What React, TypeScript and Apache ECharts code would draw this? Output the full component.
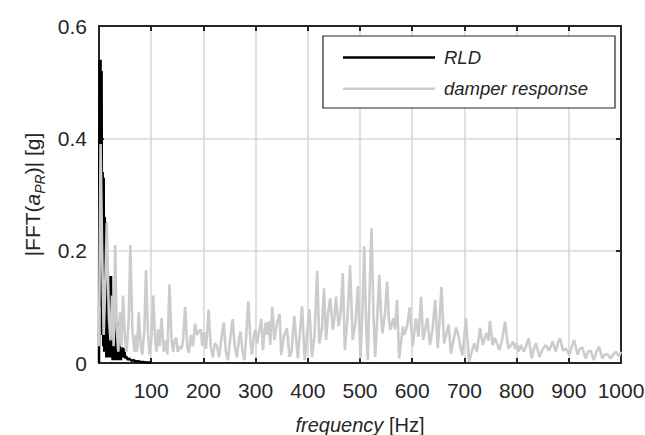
import { useEffect, useRef } from 'react';
import * as echarts from 'echarts';

// RLD spectrum (frequency in Hz, amplitude in g)
const rldFreq = [0, 1, 2, 3, 4, 5, 6, 7, 8, 9, 10, 11, 12, 13, 14, 15, 16, 17, 18, 19, 20, 21, 22, 23, 24, 25, 26, 27, 28, 29, 30, 31, 32, 33, 34, 35, 36, 37, 38, 39, 40, 41, 42, 43, 44, 45, 46, 47, 48, 49, 50, 52, 55, 58, 62, 66, 70, 75, 80, 85, 90, 95, 100];
const rldAmp = [0.0, 0.54, 0.1, 0.54, 0.2, 0.52, 0.05, 0.34, 0.03, 0.33, 0.02, 0.26, 0.02, 0.25, 0.01, 0.12, 0.01, 0.09, 0.01, 0.07, 0.01, 0.155, 0.02, 0.155, 0.01, 0.06, 0.005, 0.05, 0.005, 0.085, 0.01, 0.08, 0.005, 0.03, 0.005, 0.04, 0.005, 0.072, 0.01, 0.06, 0.005, 0.02, 0.005, 0.025, 0.01, 0.028, 0.012, 0.026, 0.01, 0.02, 0.008, 0.012, 0.006, 0.008, 0.004, 0.005, 0.003, 0.003, 0.002, 0.002, 0.001, 0.001, 0.001];

// damper response spectrum, as [frequency, amplitude] pairs
const damperLow = [
  [0, 0.03], [3, 0.39], [6, 0.2], [9, 0.05], [12, 0.14], [15, 0.25], [19, 0.08], [22, 0.04], [25, 0.12], [28, 0.03],
  [31, 0.21], [34, 0.06], [37, 0.02], [40, 0.09], [43, 0.03], [46, 0.12], [50, 0.04], [53, 0.02], [57, 0.08], [60, 0.21],
  [64, 0.06], [68, 0.02], [71, 0.05], [73, 0.02], [76, 0.09], [80, 0.03], [83, 0.015], [87, 0.06], [90, 0.165], [94, 0.05],
  [97, 0.015], [100, 0.04], [104, 0.12], [107, 0.05], [110, 0.02], [113, 0.06], [116, 0.03], [120, 0.08], [124, 0.02],
  [128, 0.04], [131, 0.015], [135, 0.14], [139, 0.04], [142, 0.02], [145, 0.04], [148, 0.045], [151, 0.02], [155, 0.03],
  [158, 0.025], [161, 0.04], [165, 0.1], [169, 0.03], [172, 0.018], [176, 0.05], [180, 0.03], [184, 0.07], [188, 0.05],
  [191, 0.055], [195, 0.06], [198, 0.03], [201, 0.055], [205, 0.025], [210, 0.095], [214, 0.03], [218, 0.01], [222, 0.035],
  [226, 0.03], [230, 0.01], [234, 0.04], [239, 0.072], [243, 0.02], [247, 0.005], [251, 0.04], [256, 0.078], [260, 0.03],
  [264, 0.01], [268, 0.04], [271, 0.056], [275, 0.02], [279, 0.005], [282, 0.05], [286, 0.11], [290, 0.04], [293, 0.015],
  [297, 0.05],
];
const damperMid = [
  [300, 0.06], [303, 0.035], [311, 0.078], [314, 0.023], [319, 0.072], [322, 0.05], [325, 0.074], [328, 0.032], [332, 0.1],
  [336, 0.041], [341, 0.071], [346, 0.087], [349, 0.014], [354, 0.047], [360, 0.062], [365, 0.011], [369, 0.02], [374, 0.084],
  [381, 0.008], [389, 0.101], [394, 0.005], [403, 0.096], [408, 0.011], [413, 0.05], [418, 0.164], [422, 0.035], [427, 0.06],
  [431, 0.133], [435, 0.041], [439, 0.09], [443, 0.115], [448, 0.059], [451, 0.08], [454, 0.118], [459, 0.065], [463, 0.09],
  [467, 0.16], [471, 0.023], [476, 0.08], [481, 0.174], [486, 0.041], [491, 0.07], [496, 0.137], [501, 0.008], [505, 0.1],
  [508, 0.208], [512, 0.06], [515, 0.005], [519, 0.15], [522, 0.24], [526, 0.08], [529, 0.011], [533, 0.08], [537, 0.157],
  [540, 0.09], [543, 0.053], [548, 0.09], [552, 0.145], [555, 0.08], [558, 0.059], [564, 0.08], [567, 0.06], [571, 0.112],
  [575, 0.008], [579, 0.04], [582, 0.065], [585, 0.05], [588, 0.059], [591, 0.07], [595, 0.099], [601, 0.029], [607, 0.08],
  [612, 0.047], [617, 0.118], [621, 0.041], [625, 0.06], [629, 0.08], [634, 0.032], [639, 0.06], [644, 0.113], [649, 0.026],
  [652, 0.07], [656, 0.135], [661, 0.035], [665, 0.05], [670, 0.069], [674, 0.017], [679, 0.04], [684, 0.063], [689, 0.047],
  [692, 0.03], [696, 0.014],
];
const damperHigh = [
  [700, 0.05], [703, 0.08], [709, 0.002], [714, 0.02], [719, 0.035], [724, 0.02], [730, 0.063], [735, 0.032], [742, 0.053],
  [746, 0.04], [749, 0.075], [754, 0.032], [758, 0.045], [761, 0.038], [767, 0.023], [772, 0.04], [778, 0.074], [784, 0.026],
  [788, 0.03], [793, 0.038], [797, 0.025], [800, 0.035], [804, 0.02], [808, 0.032], [814, 0.02], [818, 0.03], [823, 0.044],
  [829, 0.008], [833, 0.025], [837, 0.035], [844, 0.011], [850, 0.025], [856, 0.032], [862, 0.022], [866, 0.03], [869, 0.039],
  [875, 0.02], [879, 0.035], [883, 0.044], [889, 0.022], [894, 0.026], [901, 0.015], [906, 0.03], [910, 0.041], [917, 0.015],
  [921, 0.025], [926, 0.028], [932, 0.008], [937, 0.02], [942, 0.022], [948, 0.005], [953, 0.02], [958, 0.029], [964, 0.008],
  [969, 0.015], [974, 0.016], [980, 0.008], [985, 0.015], [990, 0.02], [996, 0.012], [1000, 0.02],
];

const seriesNames = ['RLD', 'damper response'];
const seriesColors = ['#000000', '#cccccc'];
const xRange = [0, 1000];
const xStep = 100;
const yRange = [0, 0.6];
const yStep = 0.2;

const FONT = '"Liberation Sans", Arial, Helvetica, sans-serif';
const INK = '#262626';

export default function App() {
  const ref = useRef<HTMLDivElement>(null);
  useEffect(() => {
    if (!ref.current) return;
    const chart = echarts.init(ref.current, undefined, { renderer: 'svg' });
    const rldData = rldFreq.map((f, i) => [f, rldAmp[i]]);
    const damperData = [...damperLow, ...damperMid, ...damperHigh];

    const boxAxisLine = { show: true, onZero: false, lineStyle: { color: INK, width: 2 } };
    const boxTick = { show: true, inside: true, length: 5, lineStyle: { color: INK, width: 2 } };

    chart.setOption({
      animation: false,
      backgroundColor: '#ffffff',
      grid: { left: 99, right: 24, top: 26, bottom: 72, containLabel: false, outerBoundsMode: 'none' },
      legend: {
        data: seriesNames,
        orient: 'vertical',
        left: 343,
        top: 47.5,
        padding: 0,
        itemGap: 11.3,
        itemWidth: 92,
        itemHeight: 2.6,
        icon: 'rect',
        z: 20,
        textStyle: { fontFamily: FONT, fontSize: 18.5, fontStyle: 'italic', color: INK, lineHeight: 20, padding: [0, 0, 0, 4] },
      },
      graphic: {
        elements: [
          {
            type: 'rect',
            z: 10,
            shape: { x: 323, y: 36, width: 292, height: 72 },
            style: { fill: '#ffffff', stroke: INK, lineWidth: 1.2 },
          },
        ],
      },
      xAxis: [
        {
          type: 'value',
          position: 'bottom',
          min: xRange[0],
          max: xRange[1],
          interval: xStep,
          axisLine: boxAxisLine,
          axisTick: boxTick,
          axisLabel: {
            color: INK,
            fontFamily: FONT,
            fontSize: 21,
            margin: 17,
            formatter: (v: number) => (v === 0 ? '' : String(v)),
          },
          splitLine: { show: true, lineStyle: { color: '#d9d9d9', width: 1.6 } },
          name: '{i|frequency} [Hz]',
          nameLocation: 'middle',
          nameGap: 52,
          nameTextStyle: {
            fontFamily: FONT,
            fontSize: 20,
            color: INK,
            rich: { i: { fontFamily: FONT, fontSize: 20, color: INK, fontStyle: 'italic' } },
          },
        },
        {
          type: 'value',
          position: 'top',
          min: xRange[0],
          max: xRange[1],
          interval: xStep,
          axisLine: boxAxisLine,
          axisTick: boxTick,
          axisLabel: { show: false },
          splitLine: { show: false },
        },
      ],
      yAxis: [
        {
          type: 'value',
          position: 'left',
          min: yRange[0],
          max: yRange[1],
          interval: yStep,
          axisLine: boxAxisLine,
          axisTick: boxTick,
          axisLabel: {
            color: INK,
            fontFamily: FONT,
            fontSize: 21,
            margin: 12,
            formatter: (v: number) => (v === 0 ? '0' : v.toFixed(1)),
          },
          splitLine: { show: true, lineStyle: { color: '#d9d9d9', width: 1.6 } },
          name: '|FFT({i|a}{s|PR})| [g]',
          nameLocation: 'middle',
          nameGap: 50,
          nameTextStyle: {
            fontFamily: FONT,
            fontSize: 21,
            color: INK,
            rich: {
              i: { fontFamily: FONT, fontSize: 21, color: INK, fontStyle: 'italic' },
              s: { fontFamily: FONT, fontSize: 14, color: INK, fontStyle: 'italic', padding: [14, 0, 0, 0] },
            },
          },
        },
        {
          type: 'value',
          position: 'right',
          min: yRange[0],
          max: yRange[1],
          interval: yStep,
          axisLine: boxAxisLine,
          axisTick: boxTick,
          axisLabel: { show: false },
          splitLine: { show: false },
        },
      ],
      series: [
        {
          name: seriesNames[0],
          type: 'line',
          xAxisIndex: 0,
          yAxisIndex: 0,
          data: rldData,
          symbol: 'none',
          showSymbol: false,
          color: seriesColors[0],
          lineStyle: { color: seriesColors[0], width: 2.5 },
          z: 2,
        },
        {
          name: seriesNames[1],
          type: 'line',
          xAxisIndex: 0,
          yAxisIndex: 0,
          data: damperData,
          symbol: 'none',
          showSymbol: false,
          color: seriesColors[1],
          lineStyle: { color: seriesColors[1], width: 2.6 },
          z: 3,
        },
      ],
    });
    return () => chart.dispose();
  }, []);

  return (
    <div
      ref={ref}
      style={{ position: 'fixed', left: 0, top: 0, width: 645, height: 435, background: '#ffffff' }}
    />
  );
}
